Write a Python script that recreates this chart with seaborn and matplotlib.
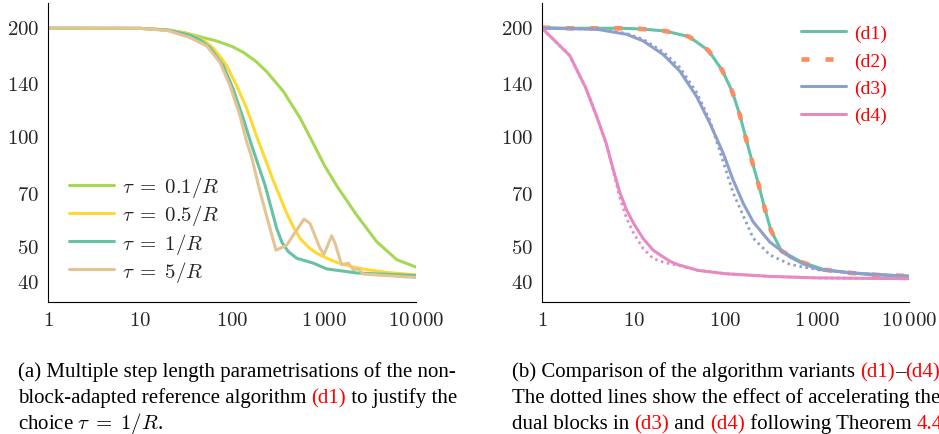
import matplotlib
matplotlib.use("Agg")
import matplotlib.pyplot as plt
import seaborn as sns
from matplotlib.ticker import LogLocator, NullFormatter, NullLocator

# ---- data ----
# (a) step length parametrisations
it_a1 = [1, 10, 20, 30, 68, 100, 133, 180, 238, 361, 549, 780, 1000, 1374, 2265, 3743, 6170, 10000]
tau_01 = [198, 197.8, 195.8, 192.6, 182.6, 176.4, 169.9, 160.9, 150.5, 132.8, 112.3, 94.6, 83.5, 73.1, 60.7,
          51.3, 45.8, 43.7]

it_a2 = [1, 10, 20, 35, 50, 62.6, 75, 87.6, 112.4, 145, 185, 228, 281, 393, 470, 549, 680, 832, 1100, 1374,
         2000, 2910, 5000, 10000]
tau_05 = [198, 197.8, 195.8, 190.5, 183, 174.5, 165, 156, 137.6, 119, 100, 87, 75.5, 61.5, 56, 52.4, 49.5,
          47.7, 46.1, 45.0, 43.8, 43.0, 42.2, 41.6]

it_a3 = [1, 10, 20, 35, 45, 57.7, 80.5, 103, 132.8, 163.7, 228.4, 306, 350, 409, 505, 765, 1069, 2265, 10000]
tau_1 = [198, 197.8, 195.6, 189.5, 184, 175.2, 156.1, 134.8, 111.6, 94.3, 73.4, 55.8, 51, 48.2, 46.2, 44.8,
         43.2, 42.1, 41.4]

it_a4 = [1, 10, 20, 34.9, 53.1, 74.1, 95.1, 122, 144.5, 163.7, 201.5, 259, 300.5, 393, 606, 704, 906, 1000,
         1212, 1318, 1556, 1837, 2080, 2359, 2675, 10000]
tau_5 = [198, 197.8, 195, 186.6, 177, 159.4, 137.6, 113.9, 96.4, 87.5, 70.4, 55.8, 48.6, 50.2, 59.2, 57.6,
         49.2, 47.4, 53.3, 50.8, 44.3, 44.8, 43.0, 43.2, 41.8, 40.9]

# (b) algorithm variants
it_d1 = [1, 2, 4, 7, 12, 22, 40, 65, 92, 118, 143, 166, 195, 229, 266, 312, 407, 673, 1186, 2130, 3990, 10000]
d1 = [198.6, 197.9, 197.9, 197.9, 197.1, 194.5, 187.7, 172.1, 151.8, 132.9, 114.6, 99.2, 85.2, 73.8, 63.7,
      55.2, 48.4, 45.1, 43.0, 42.2, 41.6, 41.3]
d2 = d1

it_d3 = [1, 2, 4, 8.35, 12.7, 20.9, 31.8, 48.3, 67.5, 94.4, 121, 156, 200, 304, 501, 701, 1065, 2456, 10000]
d3 = [198, 197.4, 196.6, 190.5, 182.6, 167.7, 150.9, 128.7, 108.6, 89.8, 75.8, 65.4, 58.2, 51.2, 46.6, 44.6,
      43.0, 42.1, 41.2]
d3_acc = [198, 197.4, 196.8, 191.5, 184.5, 170.5, 154.5, 132, 110.5, 85, 70, 60.5, 52.5, 47.2, 44.5, 43.7,
          42.9, 42.1, 41.2]

it_d4 = [1, 2, 3, 4, 5, 6, 7, 8.36, 10, 12.7, 16.3, 20.9, 25, 30, 50, 100, 300, 1000, 10000]
d4 = [198, 166.7, 135.7, 112.2, 95.7, 80.8, 70.4, 62.7, 57.5, 52.3, 48.6, 46.6, 45.3, 44.4, 42.8, 41.9, 41.2,
      40.8, 40.6]
d4_acc = [198, 166.7, 135.7, 112.2, 95.7, 80.0, 68.2, 59.4, 54.0, 49.1, 46.1, 45.1, 44.6, 44.2, 42.8, 41.9,
          41.2, 40.8, 40.6]

x_ticks = [1, 10, 100, 1000, 10000]
x_labels = [r"$1$", r"$10$", r"$100$", r"$1\,000$", r"$10\,000$"]
y_ticks = [40, 50, 70, 100, 140, 200]
y_labels = [r"$40$", r"$50$", r"$70$", r"$100$", r"$140$", r"$200$"]

sns.set_style("white")
plt.rcParams["mathtext.fontset"] = "cm"
plt.rcParams["font.family"] = ["Liberation Serif", "DejaVu Serif"]

pal = sns.color_palette("Set2")
teal, orange, blue, pink, green, yellow, tan = pal[:7]

fig = plt.figure(figsize=(9.39, 4.35), dpi=100)
W, H = 939, 435
ax1 = fig.add_axes([48 / W, 1 - 303.3 / H, 368 / W, 299.3 / H])
ax2 = fig.add_axes([542 / W, 1 - 303.3 / H, 367 / W, 299.3 / H])

lw = 2.2
sns.lineplot(x=it_a1, y=tau_01, ax=ax1, color=green, lw=lw, label=r"$\tau \;=\; 0.1/R$")
sns.lineplot(x=it_a2, y=tau_05, ax=ax1, color=yellow, lw=lw, label=r"$\tau \;=\; 0.5/R$")
sns.lineplot(x=it_a3, y=tau_1, ax=ax1, color=teal, lw=lw, label=r"$\tau \;=\; 1/R$")
sns.lineplot(x=it_a4, y=tau_5, ax=ax1, color=tan, lw=lw, label=r"$\tau \;=\; 5/R$")

sns.lineplot(x=it_d3, y=d3_acc, ax=ax2, color=blue, lw=2.0, linestyle=(0, (0.9, 1.3)))
sns.lineplot(x=it_d4, y=d4_acc, ax=ax2, color=pink, lw=2.0, linestyle=(0, (0.9, 1.3)))
sns.lineplot(x=it_d1, y=d1, ax=ax2, color=teal, lw=lw, label="(d1)")
sns.lineplot(x=it_d1, y=d2, ax=ax2, color=orange, lw=3.3, linestyle=(0, (1.75, 3.5)), label="(d2)")
sns.lineplot(x=it_d3, y=d3, ax=ax2, color=blue, lw=lw, label="(d3)")
sns.lineplot(x=it_d4, y=d4, ax=ax2, color=pink, lw=lw, label="(d4)")

for ax in (ax1, ax2):
    ax.set_xscale("log")
    ax.set_yscale("log")
    ax.set_xlim(1, 10000)
    ax.set_ylim(34.97, 232.2)
    ax.set_xticks(x_ticks, x_labels)
    ax.set_yticks(y_ticks, y_labels)
    ax.xaxis.set_minor_locator(LogLocator(base=10, subs=range(2, 10), numticks=20))
    ax.xaxis.set_minor_formatter(NullFormatter())
    ax.yaxis.set_minor_locator(NullLocator())
    ax.tick_params(which="both", direction="in", color="#999999", width=0.8, labelsize=15)
    ax.tick_params(which="major", length=7.5)
    ax.tick_params(which="minor", length=4)
    ax.tick_params(axis="y", pad=6.3)
    ax.tick_params(axis="x", pad=6)
    ax.set_xlabel("")
    ax.set_ylabel("")
    sns.despine(ax=ax)
    for s in ("left", "bottom"):
        ax.spines[s].set_color("black")
        ax.spines[s].set_linewidth(0.8)

ax1.legend(loc="lower left", bbox_to_anchor=(0.058, 0.062), frameon=False, fontsize=15,
           handlelength=2.16, handletextpad=0.36, labelspacing=0.15, borderpad=0, borderaxespad=0)
ax2.legend(loc="upper left", bbox_to_anchor=(0.706, 0.928), frameon=False, fontsize=14,
           handlelength=2.32, handletextpad=0.41, labelspacing=0.5, borderpad=0, borderaxespad=0,
           labelcolor="red")


def caption(ax, x, y, parts, size=15):
    t = fig.text(x / W, 1 - y / H, parts[0][0], color=parts[0][1], va="baseline", fontsize=size)
    for s, c in parts[1:]:
        t = ax.annotate(s, xy=(1, 0), xycoords=t, va="bottom", ha="left", color=c, fontsize=size)


k = "black"
r = "red"
caption(ax1, 18, 377, [("(a) Multiple step length parametrisations of the non-", k)])
caption(ax1, 18, 403, [("block-adapted reference algorithm ", k), ("(d1)", r), (" to justify the", k)])
caption(ax1, 18, 429, [(r"choice $\tau \;=\; 1/R$.", k)])
# the reference figure crops caption (b) at its right edge
caption(ax2, 512, 377, [("(b) Comparison of the algorithm variants ", k), ("(d1)", r), ("\u2013", k),
                        ("(d4)", r), (".", k)])
caption(ax2, 512, 403, [("The dotted lines show the effect of accelerating the", k)])
caption(ax2, 512, 429, [("dual blocks in ", k), ("(d3)", r), (" and ", k), ("(d4)", r),
                        (" following Theorem ", k), ("4.4", r), (".", k)])

fig.savefig("out.png", dpi=100)
